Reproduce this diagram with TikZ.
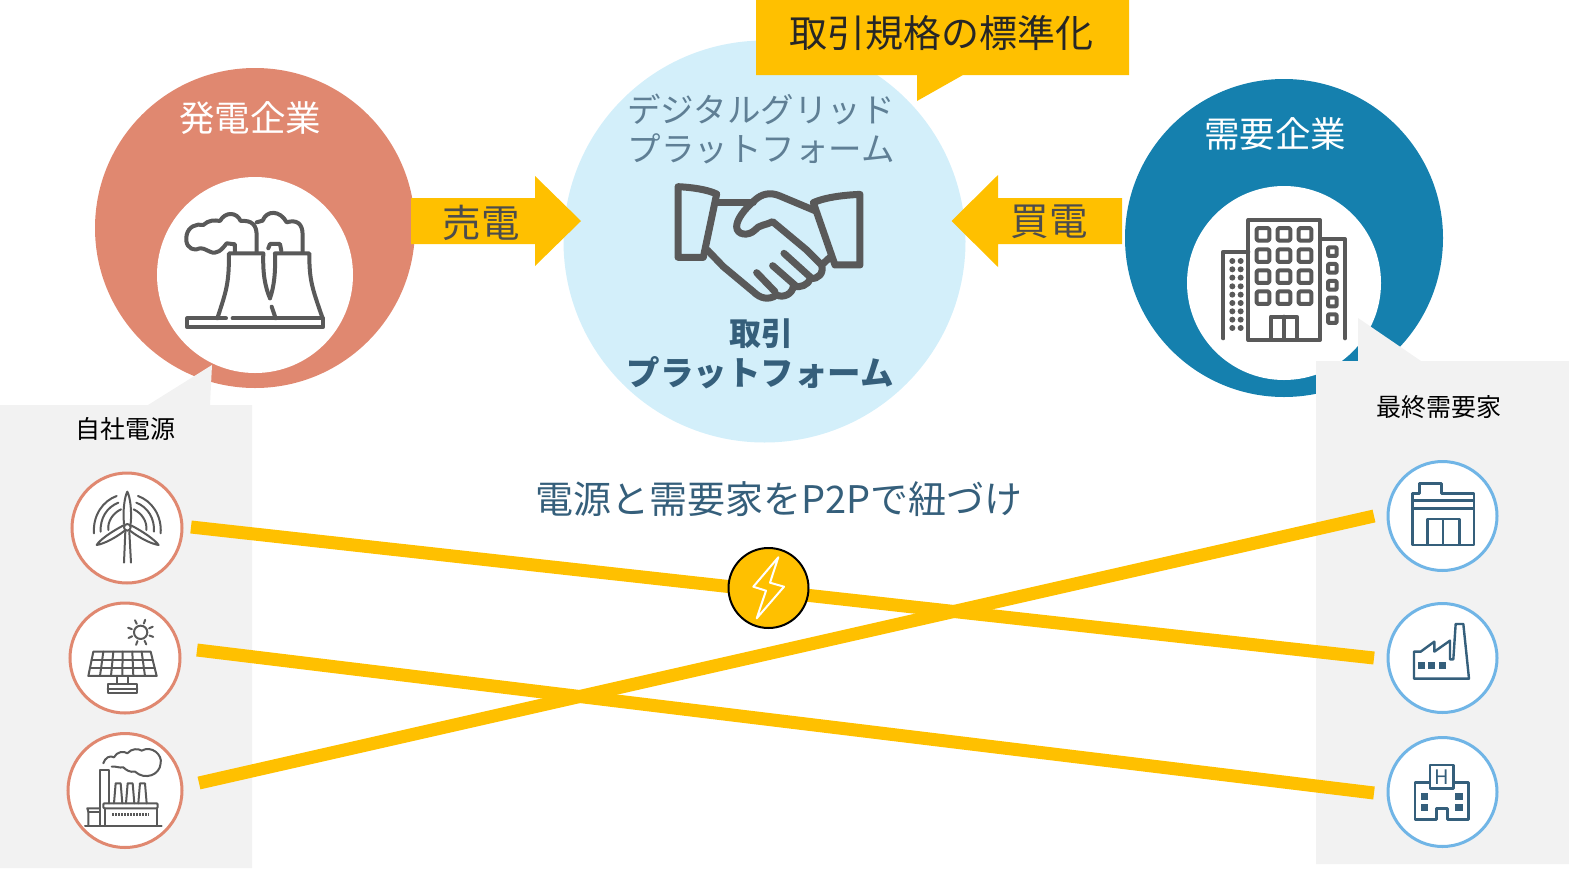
\documentclass[tikz,border=0pt]{standalone}
\usepackage{fontspec}
\usetikzlibrary{calc}
\setmainfont{Noto Sans CJK JP}
\newcommand{\pts}[1]{\fontsize{#1}{#1}\selectfont}
\definecolor{sellred}{HTML}{E08870}
\definecolor{buyblue}{HTML}{1580AE}
\definecolor{paleblue}{HTML}{D3EFFA}
\definecolor{linkgold}{HTML}{FFC000}
\definecolor{panelgrey}{HTML}{F2F2F2}
\definecolor{icongrey}{HTML}{595959}
\definecolor{inkblue}{HTML}{355F7B}
\definecolor{skyline}{HTML}{70B5E6}
\definecolor{softink}{HTML}{5F7F95}
\tikzset{
  disc/.style={circle,inner sep=0pt,minimum size=#1},
  seller/.style={disc=#1,draw=sellred,line width=3pt,fill=white},
  buyer/.style={disc=#1,draw=skyline,line width=3pt,fill=white},
  link/.style={draw=linkgold,line width=13pt},
  bigicon/.style={draw=icongrey,line width=4pt,line cap=round,line join=round},
  fineicon/.style={draw=icongrey,line width=2pt,line cap=round,line join=round},
  blueicon/.style={draw=inkblue,line width=2.4pt,line join=round},
  label/.style={inner sep=0pt,text=softink},
}
\begin{document}
\begin{tikzpicture}[x=1pt,y=-1pt]
\useasboundingbox (0,0) rectangle (1569,868);
\node[disc=320pt,fill=sellred] (sellring) at (255,228) {};
\node[disc=196pt,fill=white] (sellhole) at (255,275) {};
\node[disc=402pt,fill=paleblue] (platform) at (764.5,241.5) {};
\node[disc=318pt,fill=buyblue] (buyring) at (1284,238) {};
\node[disc=194pt,fill=white] (buyhole) at (1284,283) {};
\fill[panelgrey] (0,405) -- (148,405) -- (212,365) -- (210,405) -- (252,405) -- (252,868) -- (0,868) -- cycle;
\fill[panelgrey] (1316,361) -- (1358,361) -- (1358,318) -- (1421,361) -- (1569,361) -- (1569,864) -- (1316,864) -- cycle;
\fill[linkgold] (756,0) -- (1129,0) -- (1129,75) -- (963,75) -- (917,101) -- (917,75) -- (756,75) -- cycle;
\fill[linkgold] (411,198) -- (535,198) -- (535,176) -- (581,221) -- (535,266) -- (535,244) -- (411,244) -- cycle;
\fill[linkgold] (1122,198) -- (998,198) -- (998,175) -- (951.5,221) -- (998,267) -- (998,244) -- (1122,244) -- cycle;
\node[inner sep=0pt,text=black!85] (title) at (941,33) {\pts{38}取引規格の標準化};
\node[inner sep=0pt,text=white] (sellname) at (250,118) {\pts{35.5}発電企業};
\node[inner sep=0pt,text=white] (buyname) at (1275,134) {\pts{35.5}需要企業};
\node[label] (digital) at (761,109) {\pts{33.5}デジタルグリッド};
\node[label] (digitalb) at (761,149) {\pts{33.5}プラットフォーム};
\node[label,text=inkblue] (deal) at (761,334) {\pts{32}\bfseries 取引};
\node[label,text=inkblue] (dealb) at (760,373) {\pts{33.5}\bfseries プラットフォーム};
\node[inner sep=0pt,text=black!70] (sell) at (481,223) {\pts{38.5}売電};
\node[inner sep=0pt,text=black!70] (buy) at (1049,222) {\pts{38.5}買電};
\node[inner sep=0pt,text=black] (ownpower) at (125,429) {\pts{25}自社電源};
\node[inner sep=0pt,text=black] (enduser) at (1439,407) {\pts{25}最終需要家};
\node[label,text=inkblue] (pairing) at (779,499) {\pts{38}電源と需要家をP2Pで紐づけ};
\node[seller=110pt] (wind) at (127,528) {};
\node[seller=110pt] (solar) at (125,658) {};
\node[seller=114pt] (plant) at (125,790.5) {};
\node[buyer=109pt] (office) at (1442.5,516) {};
\node[buyer=109pt] (factory) at (1442.5,658) {};
\node[buyer=109pt] (hospital) at (1442.5,792) {};
\coordinate (windend) at (191,527);
\coordinate (solarend) at (197,650);
\coordinate (plantend) at (199,783);
\coordinate (officeend) at (1374,516);
\coordinate (factoryend) at (1374,658);
\coordinate (hospitalend) at (1374,793);
\draw[link] (windend) -- (factoryend);
\draw[link] (solarend) -- (hospitalend);
\draw[link] (plantend) -- (officeend);
\node[disc=80pt,draw=black,line width=2pt,fill=linkgold] (bolt) at (768.5,588) {};
\draw[white,line width=2pt,line join=round] (778.3,557.3) -- (753.3,586.7) -- (766,590.7) -- (756.7,618.3) -- (784,586.7) -- (770,582.7) -- cycle;
\begin{scope}[shift={(80,60)},scale=0.3333]
\draw[bigicon] (438,775) -- (322,775) -- (322,802) -- (728,802) -- (728,775) -- (458,775);
\draw[bigicon] (412,775) .. controls (440,690) and (447,670) .. (447,580) -- (550,580) .. controls (548,640) and (555,680) .. (570,715);
\draw[bigicon] (575,740) -- (587,775);
\draw[bigicon] (728,775) .. controls (695,680) and (688,660) .. (688,580) -- (585,580) .. controls (587,640) and (582,680) .. (570,715);
\draw[bigicon] (465,575) -- (465,553) -- (440,550) .. controls (425,570) and (410,585) .. (390,575) .. controls (375,570) and (370,560) .. (350,568) .. controls (325,570) and (315,550) .. (320,525) .. controls (325,500) and (350,490) .. (370,495) .. controls (385,480) and (405,480) .. (420,483) .. controls (435,455) and (470,455) .. (482,483) .. controls (515,480) and (530,495) .. (530,525) -- (530,575);
\draw[bigicon] (530,487) -- (548,482) .. controls (560,450) and (600,450) .. (620,487) .. controls (650,478) and (668,490) .. (668,525) -- (668,575);
\draw[bigicon] (565,565) -- (570,552) -- (600,552) -- (604,572);
\end{scope}
\begin{scope}[shift={(620,170)},scale=0.3333]
\draw[bigicon,line width=7pt] (174,50) .. controls (215,52) and (260,58) .. (290,72) -- (250,262) -- (174,262) -- cycle;
\draw[bigicon,line width=7pt] (720,73) .. controls (680,75) and (620,80) .. (580,98) -- (645,285) -- (720,285) -- cycle;
\draw[bigicon,line width=7pt] (295,97) -- (400,97);
\draw[bigicon,line width=7pt] (585,122) -- (480,78) .. controls (450,65) and (425,72) .. (405,90) .. controls (370,120) and (350,150) .. (350,170) .. controls (350,195) and (385,200) .. (405,180) .. controls (415,165) and (440,165) .. (458,155) -- (560,240) -- (605,285) .. controls (612,310) and (595,328) .. (572,325) .. controls (565,345) and (540,355) .. (520,348) .. controls (518,372) and (490,385) .. (470,375) .. controls (445,392) and (420,385) .. (400,365) -- (310,290) -- (262,240);
\draw[bigicon,line width=7pt] (605,285) -- (630,262);
\draw[bigicon,line width=7pt] (410,308) -- (465,365);
\draw[bigicon,line width=7pt] (458,287) -- (530,350);
\draw[bigicon,line width=7pt] (492,250) -- (575,325);
\end{scope}
\begin{scope}[shift={(1190,190)},scale=0.3333]
\draw[bigicon] (175,90) rectangle (390,450);
\draw[bigicon] (175,185) -- (100,185) -- (100,445);
\draw[bigicon] (390,147) -- (465,147) -- (465,445);
\foreach \wx in {219,282,345}
  \foreach \wy in {133,197,260,323}
    \draw[bigicon,rounded corners=1.5pt] (\wx-19,\wy-19) rectangle (\wx+19,\wy+19);
\draw[bigicon] (243,445) -- (243,380) -- (320,380) -- (320,445);
\draw[bigicon] (282,380) -- (282,445);
\foreach \dy in {213,238,263,289,314,339,364,389,414} {
  \fill[icongrey] (127,\dy) circle (9);
  \fill[icongrey] (152,\dy) circle (9);
}
\foreach \wy in {185,235,286,336,386}
  \draw[bigicon,rounded corners=1pt] (414,\wy-13) rectangle (440,\wy+13);
\end{scope}
\begin{scope}[shift={(50,460)},scale=0.3333]
\draw[fineicon] (232,202) circle (10);
\draw[fineicon] (222,192) .. controls (218,150) and (224,110) .. (232,95) .. controls (240,110) and (246,150) .. (242,192);
\draw[fineicon] (243,196) .. controls (280,215) and (315,240) .. (326,255) .. controls (305,252) and (270,235) .. (240,212);
\draw[fineicon] (221,196) .. controls (184,215) and (149,240) .. (140,255) .. controls (160,252) and (195,235) .. (224,212);
\draw[fineicon] (222,308) -- (226,215);
\draw[fineicon] (243,308) -- (238,215);
\draw[fineicon] (132,220) .. controls (128,165) and (160,122) .. (200,108);
\draw[fineicon] (152,215) .. controls (150,175) and (170,142) .. (205,128);
\draw[fineicon] (175,210) .. controls (172,185) and (188,160) .. (213,148);
\draw[fineicon] (332,220) .. controls (336,165) and (304,122) .. (264,108);
\draw[fineicon] (312,215) .. controls (314,175) and (294,142) .. (259,128);
\draw[fineicon] (289,210) .. controls (292,185) and (276,160) .. (251,148);
\draw[fineicon] (130,575) -- (302,575) -- (320,648) -- (115,648) -- cycle;
\draw[fineicon] (125,600) -- (308,600);
\draw[fineicon] (120,623) -- (314,623);
\draw[fineicon] (160,575) -- (150,648);
\draw[fineicon] (190,575) -- (183,648);
\draw[fineicon] (218,575) -- (217,648);
\draw[fineicon] (247,575) -- (250,648);
\draw[fineicon] (275,575) -- (285,648);
\draw[fineicon] (200,648) -- (200,672);
\draw[fineicon] (235,648) -- (235,672);
\draw[fineicon] (173,672) rectangle (262,700);
\draw[fineicon] (173,686) -- (262,686);
\draw[fineicon] (272,517) circle (20);
\foreach \ray in {20,65,...,335}
  \draw[fineicon] ($(272,517)+(\ray:28)$) -- ($(272,517)+(\ray:40)$);
\draw[fineicon] (150,1095) -- (150,930) -- (176,930) -- (176,1030);
\draw[fineicon] (192,1030) -- (197,970) -- (212,970) -- (217,1030);
\draw[fineicon] (228,1030) -- (233,970) -- (248,970) -- (253,1030);
\draw[fineicon] (265,1030) -- (270,970) -- (285,970) -- (290,1030);
\draw[fineicon,rounded corners=1pt] (160,1030) rectangle (323,1045);
\draw[fineicon] (165,1045) -- (165,1097);
\draw[fineicon] (320,1045) -- (320,1097);
\draw[fineicon] (150,1045) -- (112,1045) -- (115,1055) -- (115,1097);
\draw[fineicon] (115,1055) -- (150,1055);
\draw[fineicon] (105,1098) -- (335,1098);
\draw[draw=icongrey,line width=3pt,dash pattern=on 1.5pt off 1.5pt] (187,1064) -- (297,1064);
\draw[fineicon] (160,910) .. controls (165,893) and (180,885) .. (192,892) .. controls (200,875) and (222,872) .. (232,880) .. controls (245,865) and (265,865) .. (275,872) .. controls (305,855) and (338,885) .. (332,910) .. controls (330,945) and (285,962) .. (255,935) .. controls (240,938) and (228,930) .. (220,922) .. controls (208,925) and (198,918) .. (185,920);
\end{scope}
\begin{scope}[shift={(1370,450)},scale=0.3333]
\draw[blueicon] (127,285) -- (127,130) -- (148,130) -- (148,100) -- (215,100) -- (215,130) -- (312,130) -- (312,285) -- cycle;
\draw[blueicon] (127,152) -- (312,152);
\draw[blueicon] (127,175) -- (312,175);
\draw[blueicon] (172,285) -- (172,207) -- (268,207) -- (268,285);
\draw[blueicon] (219,207) -- (219,285);
\draw[blueicon] (132,686) -- (132,605) -- (152,605) -- (193,575) -- (193,605) -- (240,572) -- (240,628) -- (250,628) -- (257,522) -- (280,522) -- (297,686) -- cycle;
\foreach \wx in {145,175,208}
  \fill[inkblue] (\wx,636) rectangle ++(19,20);
\draw[blueicon] (135,997) -- (180,997) -- (180,945) -- (250,945) -- (250,997) -- (295,997) -- (295,1108) -- (232,1108) -- (232,1075) -- (200,1075) -- (200,1108) -- (135,1108) -- cycle;
\draw[blueicon] (180,997) -- (180,1015) -- (250,1015) -- (250,997);
\node[inner sep=0pt,text=inkblue] (hmark) at (215,982) {\pts{20}H};
\foreach \wx in {153,256}
  \foreach \wy in {1030,1062}
    \fill[inkblue] (\wx,\wy) rectangle ++(22,20);
\end{scope}
\end{tikzpicture}
\end{document}
